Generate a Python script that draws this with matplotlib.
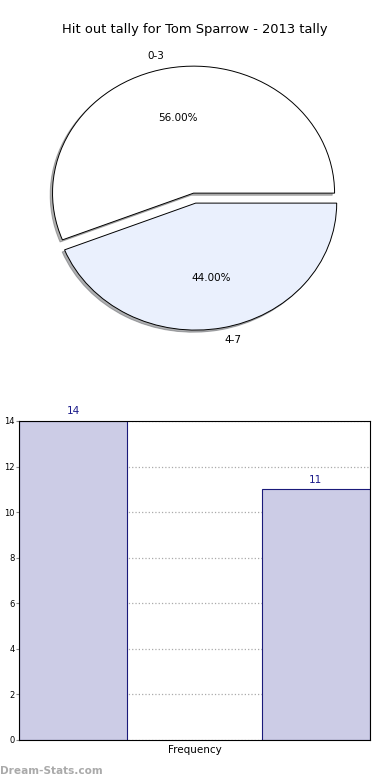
import matplotlib.pyplot as plt
import numpy as np

title = 'Hit out tally for Tom Sparrow - 2013 tally'
pie_labels = ['0-3', '4-7']
pie_values = [14, 11]
pie_colors = ['#ffffff', '#eaf0fd']

bar_labels = ['Frequency']
bar_values = [14, 11]
yticks = [0, 2, 4, 6, 8, 10, 12, 14]

fig = plt.figure(figsize=(3.9, 7.8), dpi=100)
fig.text(0.5, 1 - 30 / 780, title, ha='center', va='center', fontsize=9.4)

# pie (stretched into an ellipse like the original)
ax1 = fig.add_axes([0.047, 0.5425, 0.904, 0.407])
ax1.pie(pie_values, labels=pie_labels, colors=pie_colors, explode=[0.04, 0.04],
        autopct='%.2f%%', startangle=0,
        shadow={'ox': -0.012, 'oy': -0.012, 'shade': 0.6},
        wedgeprops=dict(edgecolor='black', linewidth=0.7),
        textprops=dict(fontsize=7.5))
ax1.set_aspect('auto')
ax1.set_xlim(-1.25, 1.25)
ax1.set_ylim(-1.25, 1.25)
ax1.axis('off')

# bars
ax2 = fig.add_axes([0.0487, 0.0513, 0.9, 0.409])
lefts = [0, 2.24]
bars = ax2.bar(lefts, bar_values, width=1, align='edge', color='#ccccE6',
               edgecolor='#1a1a7a', linewidth=0.8, zorder=2)
for b, v in zip(bars, bar_values):
    ax2.text(b.get_x() + b.get_width() / 2, v + 0.2, str(v), ha='center',
             va='bottom', color='#1a1a8a', fontsize=7.5)
ax2.set_xlim(0, 3.24)
ax2.set_ylim(0, 14)
ax2.set_yticks(yticks)
ax2.tick_params(axis='y', labelsize=6, length=2, color='#888888', pad=1)
ax2.set_xticks([1.62])
ax2.set_xticklabels(bar_labels, fontsize=7.5)
ax2.tick_params(axis='x', length=0)
ax2.yaxis.grid(True, linestyle=':', color='#aaaaaa', linewidth=0.9, zorder=0)
ax2.set_axisbelow(True)
# y label sits half off the left edge, as in the original
fig.text(-0.004, 0.255, 'Occurrences', rotation=90, ha='center', va='center',
         fontsize=6.5)

fig.text(0.0, 1 - 771 / 780, 'Dream-Stats.com', color='#aaaaaa', fontsize=7.6,
         fontweight='bold', ha='left', va='center')

fig.savefig('out.png', dpi=100)
